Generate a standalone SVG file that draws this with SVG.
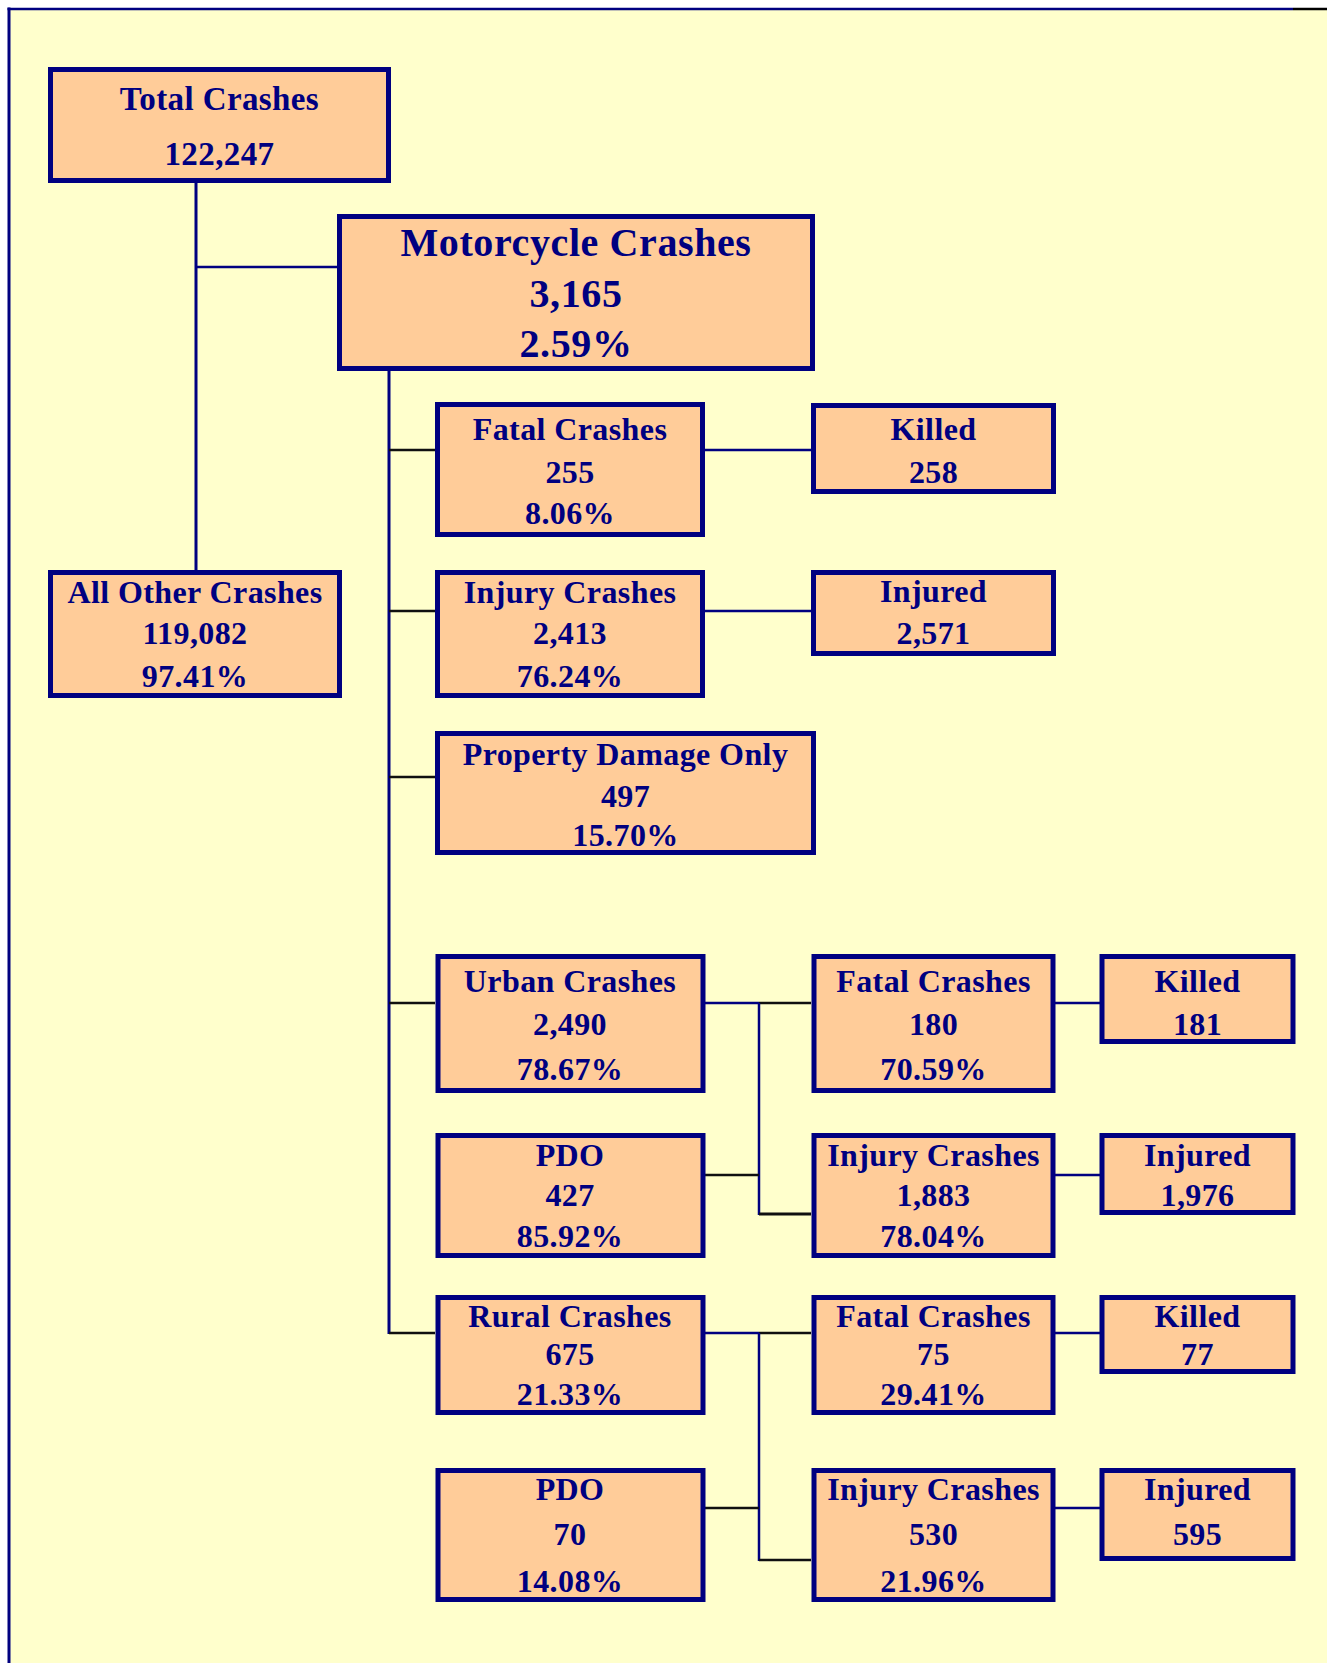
<svg xmlns="http://www.w3.org/2000/svg" width="1327" height="1663" viewBox="0 0 1327 1663">
<style>
.box{fill:#FFCC99;stroke:#000080;stroke-width:5}
.t{font-family:"Liberation Serif","Times New Roman",serif;font-weight:bold;font-size:32px;fill:#000080;text-anchor:middle;letter-spacing:0.4px}
.big{font-size:40px;letter-spacing:0.6px}
.ln{stroke:#000080;stroke-width:2.5;fill:none}
.lk{stroke:#101010;stroke-width:2.5;fill:none}
.th{stroke-width:3}
</style>
<rect x="0" y="0" width="1327" height="1663" fill="#FFFFFF"/>
<rect x="9" y="9" width="1318" height="1654" fill="#FFFFCC"/>
<g id="frame">
<line x1="7.5" y1="9" x2="1293" y2="9" stroke="#000080" stroke-width="2.5"/>
<line x1="1293" y1="9" x2="1327" y2="9" stroke="#000000" stroke-width="2.5"/>
<line x1="9" y1="7.5" x2="9" y2="1663" stroke="#000080" stroke-width="3"/>
</g>
<g id="connectors">
<line class="ln th" x1="196" y1="183" x2="196" y2="570"/>
<line class="ln" x1="196" y1="267" x2="337" y2="267"/>
<line class="ln th" x1="389" y1="371" x2="389" y2="1334"/>
<line class="lk" x1="389" y1="450" x2="435" y2="450"/>
<line class="lk" x1="389" y1="611" x2="435" y2="611"/>
<line class="lk" x1="389" y1="777" x2="435" y2="777"/>
<line class="lk" x1="389" y1="1003" x2="435" y2="1003"/>
<line class="lk" x1="389" y1="1333" x2="435" y2="1333"/>
<line class="ln" x1="705" y1="450" x2="811" y2="450"/>
<line class="ln" x1="705" y1="611" x2="811" y2="611"/>
<line class="ln" x1="705" y1="1003" x2="759" y2="1003"/>
<line class="lk" x1="759" y1="1003" x2="811" y2="1003"/>
<line class="ln" x1="759" y1="1003" x2="759" y2="1215"/>
<line class="lk th" x1="759" y1="1214" x2="811" y2="1214"/>
<line class="lk" x1="705" y1="1175" x2="759" y2="1175"/>
<line class="ln" x1="1055" y1="1003" x2="1100" y2="1003"/>
<line class="ln" x1="1055" y1="1175" x2="1100" y2="1175"/>
<line class="ln" x1="705" y1="1333" x2="759" y2="1333"/>
<line class="lk" x1="759" y1="1333" x2="811" y2="1333"/>
<line class="ln" x1="759" y1="1333" x2="759" y2="1561"/>
<line class="lk" x1="759" y1="1560" x2="811" y2="1560"/>
<line class="lk" x1="705" y1="1508" x2="759" y2="1508"/>
<line class="ln" x1="1055" y1="1333" x2="1100" y2="1333"/>
<line class="ln" x1="1055" y1="1508" x2="1100" y2="1508"/>
</g>
<g id="total">
<rect class="box" x="50.5" y="69.5" width="338" height="111"/>
<text class="t" x="219.5" y="110" style="font-size:33px">Total Crashes</text>
<text class="t" x="219.5" y="165" style="font-size:33px">122,247</text>
</g>
<g id="motorcycle">
<rect class="box" x="339.5" y="216.5" width="473" height="152"/>
<text class="t big" x="576" y="256">Motorcycle Crashes</text>
<text class="t big" x="576" y="307">3,165</text>
<text class="t big" x="576" y="357">2.59%</text>
</g>
<g id="allother">
<rect class="box" x="50.5" y="572.5" width="289" height="123"/>
<text class="t" x="195" y="603">All Other Crashes</text>
<text class="t" x="195" y="644">119,082</text>
<text class="t" x="195" y="687">97.41%</text>
</g>
<g id="fatal1">
<rect class="box" x="437.5" y="404.5" width="265" height="130"/>
<text class="t" x="570" y="440">Fatal Crashes</text>
<text class="t" x="570" y="483">255</text>
<text class="t" x="570" y="524">8.06%</text>
</g>
<g id="killed1">
<rect class="box" x="813.5" y="405.5" width="240" height="86"/>
<text class="t" x="933.5" y="440">Killed</text>
<text class="t" x="933.5" y="483">258</text>
</g>
<g id="injury1">
<rect class="box" x="437.5" y="572.5" width="265" height="123"/>
<text class="t" x="570" y="603">Injury Crashes</text>
<text class="t" x="570" y="644">2,413</text>
<text class="t" x="570" y="687">76.24%</text>
</g>
<g id="injured1">
<rect class="box" x="813.5" y="572.5" width="240" height="81"/>
<text class="t" x="933.5" y="602">Injured</text>
<text class="t" x="933.5" y="644">2,571</text>
</g>
<g id="pdo1">
<rect class="box" x="437.5" y="733.5" width="376" height="119"/>
<text class="t" x="625.5" y="765">Property Damage Only</text>
<text class="t" x="625.5" y="807">497</text>
<text class="t" x="625.5" y="846">15.70%</text>
</g>
<g id="urban">
<rect class="box" x="438" y="956.5" width="265" height="134"/>
<text class="t" x="570" y="992">Urban Crashes</text>
<text class="t" x="570" y="1035">2,490</text>
<text class="t" x="570" y="1080">78.67%</text>
</g>
<g id="fatal2">
<rect class="box" x="814" y="956.5" width="239" height="134"/>
<text class="t" x="933.5" y="992">Fatal Crashes</text>
<text class="t" x="933.5" y="1035">180</text>
<text class="t" x="933.5" y="1080">70.59%</text>
</g>
<g id="killed2">
<rect class="box" x="1102" y="956.5" width="191" height="85"/>
<text class="t" x="1197.5" y="992">Killed</text>
<text class="t" x="1197.5" y="1035">181</text>
</g>
<g id="pdo2">
<rect class="box" x="438" y="1135.5" width="265" height="120"/>
<text class="t" x="570" y="1166">PDO</text>
<text class="t" x="570" y="1206">427</text>
<text class="t" x="570" y="1247">85.92%</text>
</g>
<g id="injury2">
<rect class="box" x="814" y="1135.5" width="239" height="120"/>
<text class="t" x="933.5" y="1166">Injury Crashes</text>
<text class="t" x="933.5" y="1206">1,883</text>
<text class="t" x="933.5" y="1247">78.04%</text>
</g>
<g id="injured2">
<rect class="box" x="1102" y="1135.5" width="191" height="77"/>
<text class="t" x="1197.5" y="1166">Injured</text>
<text class="t" x="1197.5" y="1206">1,976</text>
</g>
<g id="rural">
<rect class="box" x="438" y="1297.5" width="265" height="115"/>
<text class="t" x="570" y="1327">Rural Crashes</text>
<text class="t" x="570" y="1365">675</text>
<text class="t" x="570" y="1405">21.33%</text>
</g>
<g id="fatal3">
<rect class="box" x="814" y="1297.5" width="239" height="115"/>
<text class="t" x="933.5" y="1327">Fatal Crashes</text>
<text class="t" x="933.5" y="1365">75</text>
<text class="t" x="933.5" y="1405">29.41%</text>
</g>
<g id="killed3">
<rect class="box" x="1102" y="1297.5" width="191" height="74"/>
<text class="t" x="1197.5" y="1327">Killed</text>
<text class="t" x="1197.5" y="1365">77</text>
</g>
<g id="pdo3">
<rect class="box" x="438" y="1470.5" width="265" height="129"/>
<text class="t" x="570" y="1500">PDO</text>
<text class="t" x="570" y="1545">70</text>
<text class="t" x="570" y="1592">14.08%</text>
</g>
<g id="injury3">
<rect class="box" x="814" y="1470.5" width="239" height="129"/>
<text class="t" x="933.5" y="1500">Injury Crashes</text>
<text class="t" x="933.5" y="1545">530</text>
<text class="t" x="933.5" y="1592">21.96%</text>
</g>
<g id="injured3">
<rect class="box" x="1102" y="1470.5" width="191" height="88"/>
<text class="t" x="1197.5" y="1500">Injured</text>
<text class="t" x="1197.5" y="1545">595</text>
</g>
</svg>
